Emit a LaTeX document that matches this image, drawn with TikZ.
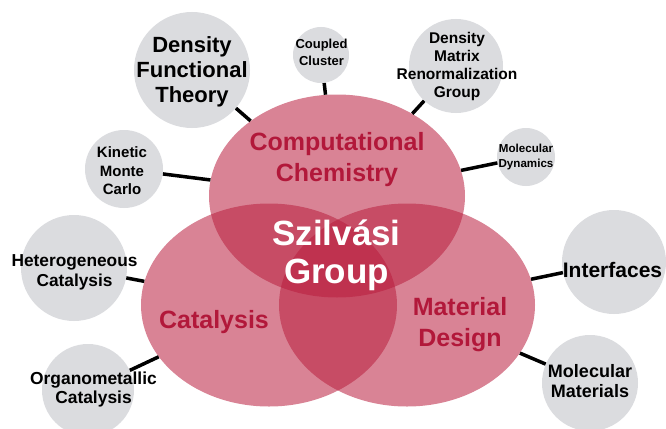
\documentclass[tikz,border=0pt]{standalone}
\usepackage{fontspec}
\setmainfont{Liberation Sans}
\usetikzlibrary{shapes.geometric}
\definecolor{venn}{RGB}{185,30,62}
\definecolor{arealabel}{RGB}{178,24,58}
\definecolor{bubble}{RGB}{219,220,223}
\begin{document}
\begin{tikzpicture}[x=1pt, y=-1pt,
   venn/.style={ellipse, fill=venn, fill opacity=0.55, inner sep=0,
                minimum width=256pt, minimum height=203pt},
   bub/.style={circle, fill=bubble, inner sep=0},
   link/.style={black, line width=3.5pt},
   topic/.style 2 args={font=\bfseries\fontsize{#1}{#2}\selectfont,
                        align=center, inner sep=0},
   area/.style={font=\bfseries\fontsize{25}{31}\selectfont, text=arealabel,
                align=center, inner sep=0}]
  \useasboundingbox (0,0) rectangle (666,428);
  % the three fields
  \node[venn] (comp) at (337,196) {};
  \node[venn] (cat) at (269,305) {};  \node[venn] (mat) at (407,305) {};
  % topic bubbles
  \node[bub, minimum size=116pt] (dft) at (192,70) {};
  \node[bub, minimum size=56pt] (cc) at (321,55) {};
  \node[bub, minimum size=94pt] (dmrg) at (456,66) {};
  \node[bub, minimum size=58pt] (md) at (526,157) {};
  \node[bub, minimum size=78pt] (kmc) at (124,169) {};
  \node[bub, minimum size=106pt] (het) at (74,268) {};
  \node[bub, minimum size=92pt] (org) at (88,390) {};
  \node[bub, minimum size=104pt] (int) at (614,262) {};
  \node[bub, minimum size=96pt] (mm) at (590,383) {};
  \foreach \s/\t in {dft/comp, cc/comp, dmrg/comp, md/comp, kmc/comp,
                     het/cat, org/cat, int/mat, mm/mat}
     \draw[link] (\s) -- (\t);
  % texts
  \node[topic={22}{25}] (dftt) at (192,72) {Density\\Functional\\Theory};
  \node[topic={13}{17}] (cct) at (321.5,52) {Coupled\\Cluster};
  \node[topic={15.5}{18}] (dmrgt) at (457,66.5) {Density\\Matrix\\Renormalization\\Group};
  \node[topic={11.6}{15}] (mdt) at (526,156.5) {Molecular\\Dynamics};
  \node[topic={15}{18.5}] (kmct) at (122,171) {Kinetic\\Monte\\Carlo};
  \node[topic={17.3}{20}] (hett) at (74.5,272.5) {Heterogeneous\\Catalysis};
  \node[topic={17.4}{18.5}] (orgt) at (93.5,389.5) {Organometallic\\Catalysis};
  \node[topic={21}{24}] (intt) at (612.5,269.5) {Interfaces};
  \node[topic={18}{20}] (mmt) at (590,381.5) {Molecular\\Materials};
  \node[area] (compt) at (337,160) {Computational\\Chemistry};
  \node[area] (catt) at (214,322.5) {Catalysis};
  \node[area] (matt) at (460,324.5) {Material\\Design};
  \node[topic={35}{38}, text=white] (group) at (336.5,255) {Szilvási\\Group};
\end{tikzpicture}
\end{document}
